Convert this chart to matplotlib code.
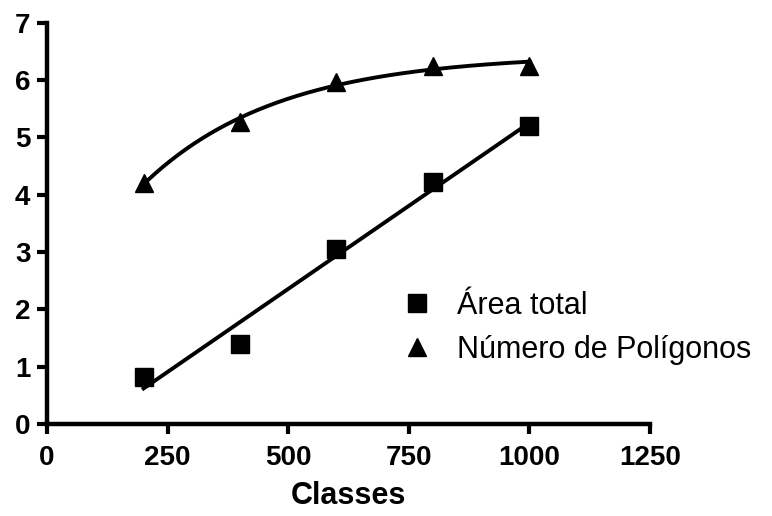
import numpy as np
import matplotlib
matplotlib.use("Agg")
import matplotlib.pyplot as plt

# valores
classes = [200, 400, 600, 800, 1000]
area_total = [0.82, 1.40, 3.05, 4.22, 5.20]
num_poligonos = [4.20, 5.27, 5.97, 6.25, 6.25]

x_ticks = [0, 250, 500, 750, 1000, 1250]
y_ticks = [0, 1, 2, 3, 4, 5, 6, 7]

plt.rcParams["font.family"] = ["Liberation Sans", "DejaVu Sans"]

fig = plt.figure(figsize=(7.72, 5.16), dpi=100)
ax = fig.add_axes([0.061, 0.178, 0.781, 0.778])

x = np.array(classes, dtype=float)
xf = np.linspace(x.min(), x.max(), 200)

# regressao linear para area total
a, b = np.polyfit(x, area_total, 1)
ax.plot(xf, a * xf + b, color="black", lw=2.8, zorder=2)

# ajuste exponencial (plato) para numero de poligonos
y2 = np.array(num_poligonos)
best = None
for k in np.linspace(0.0005, 0.02, 400):
    A = np.column_stack([np.ones_like(x), np.exp(-k * x)])
    coef, res, _, _ = np.linalg.lstsq(A, y2, rcond=None)
    err = np.sum((A @ coef - y2) ** 2)
    if best is None or err < best[0]:
        best = (err, k, coef)
_, k, coef = best
ax.plot(xf, coef[0] + coef[1] * np.exp(-k * xf), color="black", lw=2.8, zorder=2)

ax.plot(x, area_total, "s", color="black", ms=13.5, ls="none", zorder=3)
ax.plot(x, num_poligonos, "^", color="black", ms=13.5, ls="none", zorder=3)

ax.set_xlim(0, 1250)
ax.set_ylim(0, 7)
ax.set_xticks(x_ticks)
ax.set_yticks(y_ticks)
for s in ["top", "right"]:
    ax.spines[s].set_visible(False)
for s in ["left", "bottom"]:
    ax.spines[s].set_linewidth(3.2)
ax.tick_params(width=3, length=7, labelsize=20)
ax.tick_params(axis="x", pad=8)
ax.tick_params(axis="y", pad=5)
for lab in ax.get_xticklabels() + ax.get_yticklabels():
    lab.set_fontweight("bold")
ax.set_xlabel("Classes", fontsize=22, fontweight="bold", labelpad=7)

h1 = plt.Line2D([], [], marker="s", color="black", ls="none", ms=13)
h2 = plt.Line2D([], [], marker="^", color="black", ls="none", ms=13)
ax.legend([h1, h2], ["Área total", "Número de Polígonos"], frameon=False,
          fontsize=22, loc="center left", bbox_to_anchor=(0.521, 0.365),
          bbox_transform=fig.transFigure, handlelength=1.0, handletextpad=0.8,
          labelspacing=0.45, borderpad=0, borderaxespad=0)

fig.savefig("out.png", dpi=100)
